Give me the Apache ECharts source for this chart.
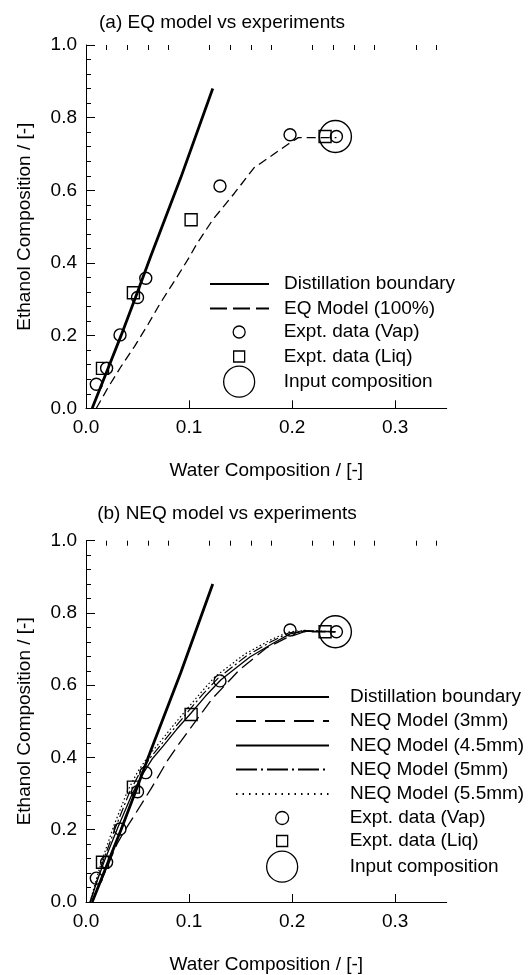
<!DOCTYPE html>
<html>
<head>
<meta charset="utf-8">
<script src="https://cdn.jsdelivr.net/npm/echarts@6/dist/echarts.min.js"></script>
<style>
html,body{margin:0;padding:0;background:#fff;}
#chart{width:532px;height:975px;}
</style>
</head>
<body>
<div id="chart"></div>
<script>
// ---------- data ----------
const xMajorTicks = [0, 0.1, 0.2, 0.3];
const xMinorTicks = [0.02, 0.04, 0.06, 0.08, 0.12, 0.14, 0.16, 0.18, 0.22, 0.24, 0.26, 0.28, 0.32, 0.34];

const boundaryX = [0.006, 0.020, 0.034, 0.048, 0.063, 0.092, 0.123];
const boundaryY = [0.000, 0.100, 0.200, 0.305, 0.420, 0.635, 0.880];

const eqX = [0.010, 0.022, 0.034, 0.047, 0.060, 0.072, 0.088, 0.100, 0.107, 0.123, 0.144, 0.163, 0.180, 0.196, 0.206, 0.243];
const eqY = [0.000, 0.060, 0.115, 0.170, 0.230, 0.289, 0.360, 0.415, 0.450, 0.519, 0.592, 0.662, 0.695, 0.727, 0.745, 0.745];

const neq3X = [0.006, 0.018, 0.030, 0.038, 0.047, 0.063, 0.079, 0.090, 0.105, 0.122, 0.149, 0.175, 0.1945, 0.212, 0.242];
const neq3Y = [0.000, 0.080, 0.160, 0.200, 0.240, 0.313, 0.391, 0.437, 0.495, 0.561, 0.643, 0.703, 0.731, 0.748, 0.748];

const neq45X = [0.004, 0.011, 0.018, 0.031, 0.045, 0.055, 0.064, 0.075, 0.088, 0.102, 0.116, 0.131, 0.159, 0.182, 0.198, 0.212, 0.242];
const neq45Y = [0.000, 0.060, 0.115, 0.207, 0.300, 0.354, 0.395, 0.432, 0.478, 0.523, 0.570, 0.615, 0.678, 0.717, 0.742, 0.750, 0.748];

const neq5X = [0.004, 0.011, 0.017, 0.029, 0.042, 0.052, 0.062, 0.073, 0.086, 0.099, 0.113, 0.128, 0.156, 0.180, 0.197, 0.212, 0.242];
const neq5Y = [0.000, 0.062, 0.117, 0.209, 0.302, 0.357, 0.398, 0.436, 0.482, 0.527, 0.574, 0.619, 0.682, 0.721, 0.745, 0.751, 0.748];

const neq55X = [0.004, 0.010, 0.016, 0.027, 0.040, 0.050, 0.060, 0.071, 0.084, 0.097, 0.111, 0.125, 0.154, 0.178, 0.196, 0.212, 0.242];
const neq55Y = [0.000, 0.063, 0.119, 0.211, 0.305, 0.360, 0.402, 0.440, 0.486, 0.531, 0.578, 0.623, 0.686, 0.724, 0.747, 0.752, 0.748];

const vapX = [0.010, 0.020, 0.033, 0.050, 0.058, 0.130, 0.198, 0.243];
const vapY = [0.066, 0.110, 0.202, 0.305, 0.358, 0.612, 0.753, 0.748];

const liqX = [0.016, 0.046, 0.102, 0.232];
const liqY = [0.110, 0.318, 0.519, 0.748];

const inputX = [0.242];
const inputY = [0.748];

// ---------- helpers ----------
const zip = (xs, ys) => xs.map((x, i) => [x, ys[i]]);
const FONT = 'Liberation Sans';
const FS = 19;
const black = '#000';

function xAxisMain(gridIndex) {
  return {
    type: 'value', gridIndex, min: 0, max: 0.35,
    name: 'Water Composition / [-]', nameLocation: 'middle', nameGap: 53,
    nameTextStyle: { fontFamily: FONT, fontSize: FS, color: black },
    axisLine: { show: true, lineStyle: { color: black, width: 1 } },
    axisTick: { show: true, inside: true, length: 8, customValues: xMajorTicks, lineStyle: { color: black, width: 1 } },
    axisLabel: { show: true, customValues: xMajorTicks, margin: 10, fontFamily: FONT, fontSize: FS, color: black,
      formatter: v => v.toFixed(1) },
    splitLine: { show: false }
  };
}
function xAxisMinor(gridIndex) {
  return {
    type: 'value', gridIndex, min: 0, max: 0.35,
    axisLine: { show: false },
    axisTick: { show: true, inside: true, length: 5, customValues: xMinorTicks, lineStyle: { color: black, width: 1 } },
    axisLabel: { show: false },
    splitLine: { show: false }
  };
}
function yAxis(gridIndex) {
  return {
    type: 'value', gridIndex, min: 0, max: 1, interval: 0.2,
    name: 'Ethanol Composition / [-]', nameLocation: 'middle', nameGap: 52,
    nameTextStyle: { fontFamily: FONT, fontSize: FS, color: black },
    axisLine: { show: true, lineStyle: { color: black, width: 1 } },
    axisTick: { show: true, inside: true, length: 9, lineStyle: { color: black, width: 1 } },
    minorTick: { show: true, splitNumber: 5, length: 5, lineStyle: { color: black, width: 1 } },
    axisLabel: { margin: 9, fontFamily: FONT, fontSize: FS, color: black, formatter: v => v.toFixed(1) },
    splitLine: { show: false }
  };
}
function lineSeries(name, xs, ys, xi, yi, width, type) {
  return {
    type: 'line', name, data: zip(xs, ys), xAxisIndex: xi, yAxisIndex: yi,
    symbol: 'none', showSymbol: false, smooth: false, z: 2,
    itemStyle: { color: black },
    lineStyle: { color: black, width, type }
  };
}
function scatterSeries(name, xs, ys, xi, yi, symbol, size) {
  return {
    type: 'scatter', name, data: zip(xs, ys), xAxisIndex: xi, yAxisIndex: yi,
    symbol, symbolSize: size, z: 3,
    itemStyle: { color: 'rgba(255,255,255,0)', borderColor: black, borderWidth: 1.4, opacity: 1 }
  };
}
const TXT = 19; // approx legend text box height
// line row: sample starts at x0 with width w, text begins at textX
function legendLineRow(name, x0, w, textX, center, lineType) {
  const ih = 19;
  return {
    data: [name], left: x0, top: center - Math.max(ih, TXT) / 2, orient: 'vertical', padding: 0,
    itemWidth: w, itemHeight: ih, selectedMode: false,
    itemStyle: { opacity: 0, color: 'rgba(0,0,0,0)', borderWidth: 0 },
    lineStyle: { type: lineType },
    textStyle: { fontFamily: FONT, fontSize: FS, color: black, padding: [0, 0, 0, textX - (x0 + w + 5)] }
  };
}
// symbol row: symbol centred at cx with size s, text begins at textX
function legendSymRow(name, cx, s, textX, center) {
  const x0 = cx - s / 2;
  return {
    data: [name], left: x0, top: center - Math.max(s, TXT) / 2, orient: 'vertical', padding: 0,
    itemWidth: s, itemHeight: s, selectedMode: false,
    itemStyle: { borderWidth: 1.3 },
    textStyle: { fontFamily: FONT, fontSize: FS, color: black, padding: [0, 0, 0, textX - (x0 + s + 5)] }
  };
}

const option = {
  animation: false,
  backgroundColor: '#fff',
  title: [
    { text: '(a) EQ model vs experiments', left: 217, top: 8, textAlign: 'center',
      textStyle: { fontFamily: FONT, fontSize: FS, fontWeight: 'normal', color: black } },
    { text: '(b) NEQ model vs experiments', left: 222, top: 499, textAlign: 'center',
      textStyle: { fontFamily: FONT, fontSize: FS, fontWeight: 'normal', color: black } }
  ],
  grid: [
    { left: 86, top: 45, width: 360.7, height: 363.3 },
    { left: 86, top: 540.7, width: 360.7, height: 363 }
  ],
  xAxis: [xAxisMain(0), xAxisMinor(0), xAxisMain(1), xAxisMinor(1)],
  yAxis: [yAxis(0), yAxis(1)],
  legend: [
    legendLineRow('Distillation boundary', 209, 59, 283, 284, 'solid'),
    legendLineRow('EQ Model (100%)', 209, 59, 283, 308.5, [17, 6]),
    legendSymRow('Expt. data (Vap)', 238.5, 12, 283, 332),
    legendSymRow('Expt. data (Liq)', 238.5, 11, 283, 356.5),
    legendSymRow('Input composition', 238.5, 31, 283, 381),

    legendLineRow('Distillation boundary', 235, 93, 349, 697, 'solid'),
    legendLineRow('NEQ Model (3mm)', 235, 93, 349, 721, [20, 9]),
    legendLineRow('NEQ Model (4.5mm)', 235, 93, 349, 745.5, 'solid'),
    legendLineRow('NEQ Model (5mm)', 235, 93, 349, 769.5, [21, 4, 2, 4]),
    legendLineRow('NEQ Model (5.5mm)', 235, 93, 349, 794, [1.5, 5]),
    legendSymRow('Expt. data (Vap)', 281.5, 13, 349, 818),
    legendSymRow('Expt. data (Liq)', 281.5, 11, 349, 841),
    legendSymRow('Input composition', 281.5, 31, 349, 866)
  ],
  series: [
    lineSeries('Distillation boundary', boundaryX, boundaryY, 0, 0, 2.8, 'solid'),
    lineSeries('EQ Model (100%)', eqX, eqY, 0, 0, 1.3, [9, 5]),
    scatterSeries('Expt. data (Vap)', vapX, vapY, 0, 0, 'circle', 12),
    scatterSeries('Expt. data (Liq)', liqX, liqY, 0, 0, 'rect', 12),
    scatterSeries('Input composition', inputX, inputY, 0, 0, 'circle', 32),

    lineSeries('Distillation boundary', boundaryX, boundaryY, 2, 1, 2.8, 'solid'),
    lineSeries('NEQ Model (3mm)', neq3X, neq3Y, 2, 1, 1.3, [14, 6]),
    lineSeries('NEQ Model (4.5mm)', neq45X, neq45Y, 2, 1, 1.3, 'solid'),
    lineSeries('NEQ Model (5mm)', neq5X, neq5Y, 2, 1, 1.2, [10, 3, 2, 3]),
    lineSeries('NEQ Model (5.5mm)', neq55X, neq55Y, 2, 1, 1.2, [1.5, 2.5]),
    scatterSeries('Expt. data (Vap)', vapX, vapY, 2, 1, 'circle', 12),
    scatterSeries('Expt. data (Liq)', liqX, liqY, 2, 1, 'rect', 12),
    scatterSeries('Input composition', inputX, inputY, 2, 1, 'circle', 32)
  ]
};

const chart = echarts.init(document.getElementById('chart'), null, { renderer: 'canvas' });
chart.setOption(option);
</script>
</body>
</html>
